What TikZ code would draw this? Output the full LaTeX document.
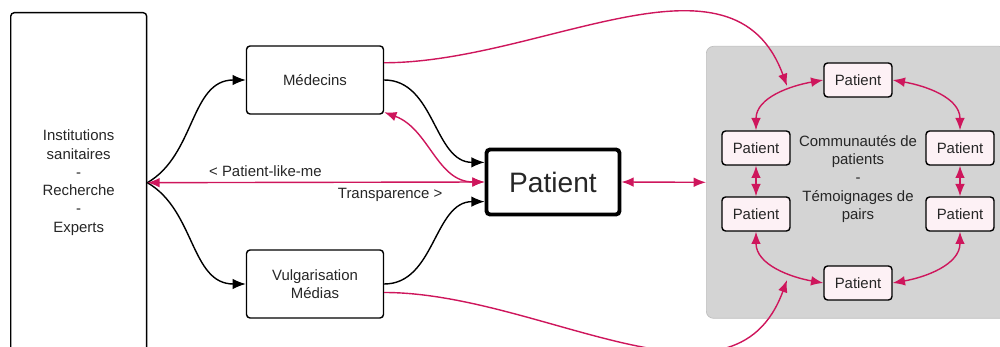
\documentclass[tikz,border=0pt]{standalone}
\usepackage{fontspec}
\setmainfont{Liberation Sans}
\usetikzlibrary{arrows.meta}
\definecolor{rose}{RGB}{206,22,92}
\definecolor{zone}{RGB}{212,212,212}
\definecolor{rosepale}{RGB}{253,241,245}

\begin{document}
\begin{tikzpicture}[x=0.02cm, y=0.02cm, font=\fontsize{8.5}{10.4}\selectfont, text=black!85,
    boite/.style={draw, rounded corners=2pt, line width=0.8pt, fill=white, align=center, inner sep=1pt},
    petit/.style={draw, rounded corners=2pt, line width=0.8pt, fill=rosepale, minimum width=1.36cm, minimum height=0.68cm, inner sep=1pt},
    noir/.style={-{Latex[length=7.5pt,width=6pt]}, line width=0.8pt},
    lien/.style={rose, line width=0.8pt, {Latex[length=7pt,width=5.5pt]}-{Latex[length=7pt,width=5.5pt]}},
    lienfin/.style={rose, line width=0.8pt, -{Latex[length=7pt,width=5.5pt]}}]
    \useasboundingbox (0,0) rectangle (1000,-347);
    \clip (0,0) rectangle (1000,-347);

    \node[boite, anchor=north west, minimum width=2.72cm, minimum height=6.8cm] (inst) at (10,-12) {Institutions\\sanitaires\\-\\Recherche\\-\\Experts};
    \node[boite, minimum width=2.74cm, minimum height=1.36cm] (med) at (315,-80) {Médecins};
    \node[boite, minimum width=2.74cm, minimum height=1.36cm] (vul) at (315,-284) {Vulgarisation\\Médias};
    \node[boite, line width=2.2pt, minimum width=2.66cm, minimum height=1.3cm, font=\fontsize{16}{18}\selectfont] (pat) at (553,-182) {Patient};

    % communaute
    \node[draw=black!25, fill=zone, rounded corners=4pt, anchor=north west, minimum width=6cm, minimum height=5.44cm] (zone) at (706,-46) {};
    \node[align=center] (comm) at (858,-179) {Communautés de\\patients\\-\\Témoignages de\\pairs};
    \foreach \nom/\x/\y in {p1/858/80, p2/756/148, p3/960/148, p4/756/214, p5/960/214, p6/858/283}
        \node[petit] (\nom) at (\x,-\y) {Patient};
    \coordinate (haut) at (787,-86);
    \coordinate (bas) at (787,-280);

    \draw[noir] (inst.east) to[out=30,in=180] (med.west);
    \draw[noir] (inst.east) to[out=-30,in=180] (vul.west);
    \draw[noir] (med.east) to[out=0,in=180] (pat.164);
    \draw[noir] (vul.east) to[out=0,in=180] (pat.196);

    \draw[lien] (inst.east) -- (pat.west)
        node[pos=0.35, above, inner sep=3pt, text=black!85] (plm) {< Patient-like-me}
        node[pos=0.72, below, inner sep=3pt, text=black!85] (tra) {Transparence >};
    \draw[lien] (med.-25) to[out=-20,in=180] (pat.west);
    \draw[lien] (pat.east) -- (zone.west);
    \draw[lienfin] (med.14) to[out=0,in=110] (haut);
    \draw[lienfin] (vul.-7) to[out=0,in=-110] (bas);

    \draw[lien] (p1.west) to[out=190,in=90] (p2.north);
    \draw[lien] (p1.east) to[out=-10,in=90] (p3.north);
    \draw[lien] (p2.south) -- (p4.north);
    \draw[lien] (p3.south) -- (p5.north);
    \draw[lien] (p4.south) to[out=-90,in=170] (p6.west);
    \draw[lien] (p5.south) to[out=-90,in=10] (p6.east);
\end{tikzpicture}
\end{document}
